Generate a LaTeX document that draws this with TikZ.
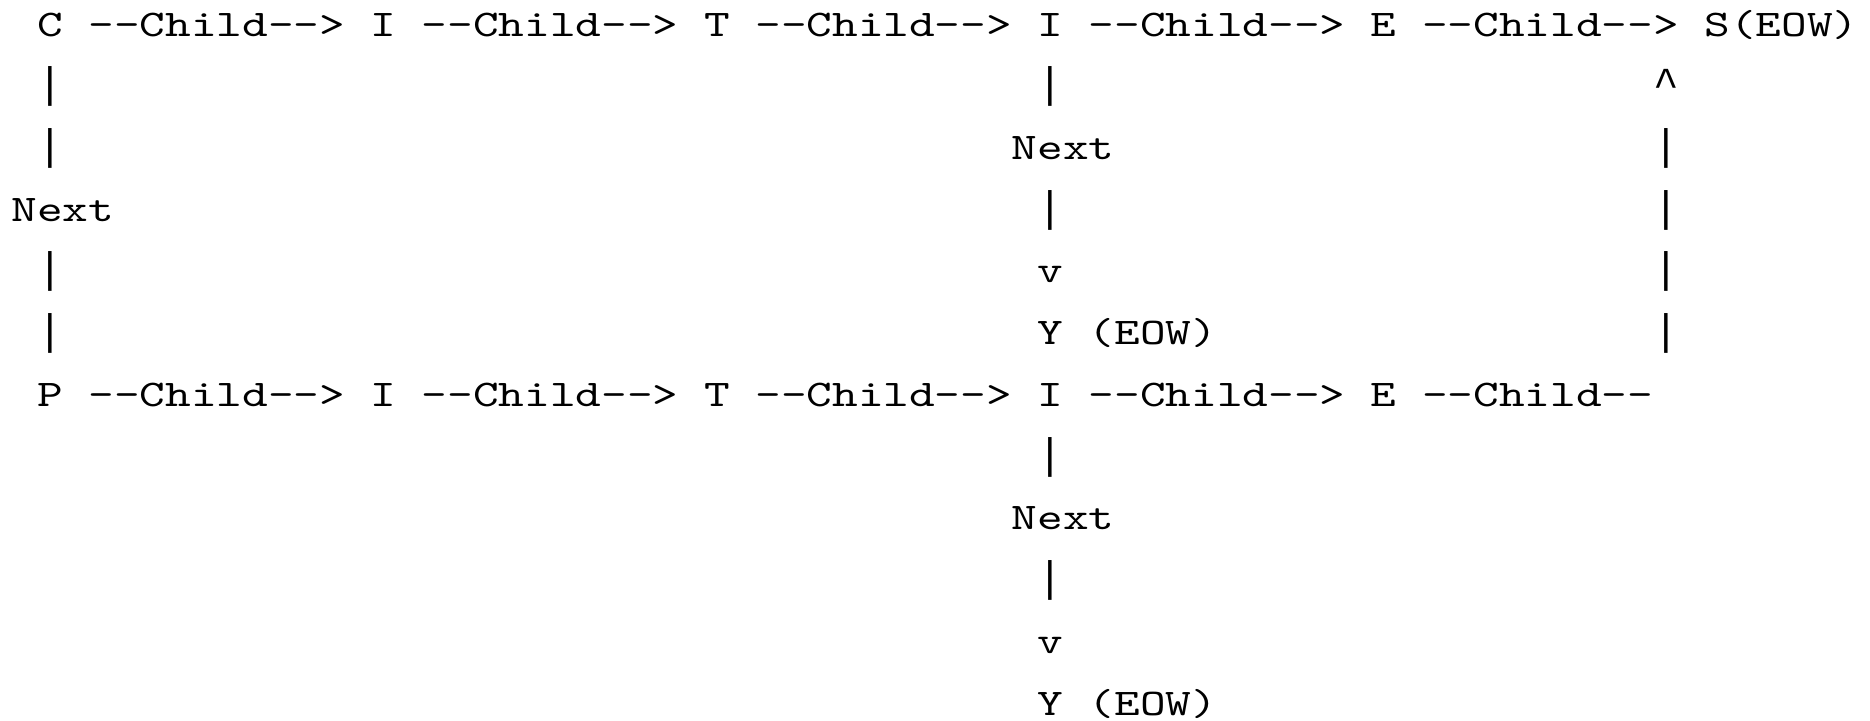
\documentclass[tikz,border=0pt]{standalone}
\usepackage{fontspec}
\newfontfamily\courfont{lmmono10-regular.otf}[FakeStretch=1.3]
\newfontfamily\barfont{Liberation Mono}
\begin{document}
\begin{tikzpicture}[x=1pt,y=-1pt,
  tx/.style={anchor=base west,inner sep=0pt,outer sep=0pt,font=\courfont\fontsize{37.6}{44}\selectfont,text=black},
  bx/.style={anchor=base west,inner sep=0pt,outer sep=0pt,font=\barfont\fontsize{42.75}{50}\selectfont,text=black}]
\useasboundingbox[fill=white] (0,0) rectangle (1870,720);
\newcommand\tk[3]{\node[tx] (t#1-#2) at ({11.5+#2*25.65},{36+#1*61.73}) {#3};}
\newcommand\tb[3]{\node[bx] (t#1-#2) at ({11.5+#2*25.65},{36+#1*61.73}) {#3};}
% row 0
\tk{0}{1}{C}\tk{0}{3}{--Child-->}\tk{0}{14}{I}\tk{0}{16}{--Child-->}\tk{0}{27}{T}
\tk{0}{29}{--Child-->}\tk{0}{40}{I}\tk{0}{42}{--Child-->}\tk{0}{53}{E}\tk{0}{55}{--Child-->}\tk{0}{66}{S(EOW)}
% row 1
\tb{1}{1}{|}\tb{1}{40}{|}\tb{1}{64}{\^{}}
% row 2
\tb{2}{1}{|}\tk{2}{39}{Next}\tb{2}{64}{|}
% row 3
\tk{3}{0}{Next}\tb{3}{40}{|}\tb{3}{64}{|}
% row 4
\tb{4}{1}{|}\tk{4}{40}{v}\tb{4}{64}{|}
% row 5
\tb{5}{1}{|}\tk{5}{40}{Y}\tk{5}{42}{(EOW)}\tb{5}{64}{|}
% row 6
\tk{6}{1}{P}\tk{6}{3}{--Child-->}\tk{6}{14}{I}\tk{6}{16}{--Child-->}\tk{6}{27}{T}
\tk{6}{29}{--Child-->}\tk{6}{40}{I}\tk{6}{42}{--Child-->}\tk{6}{53}{E}\tk{6}{55}{--Child--}
% rows 7-11
\tb{7}{40}{|}
\tk{8}{39}{Next}
\tb{9}{40}{|}
\tk{10}{40}{v}
\tk{11}{40}{Y}\tk{11}{42}{(EOW)}
\end{tikzpicture}
\end{document}
